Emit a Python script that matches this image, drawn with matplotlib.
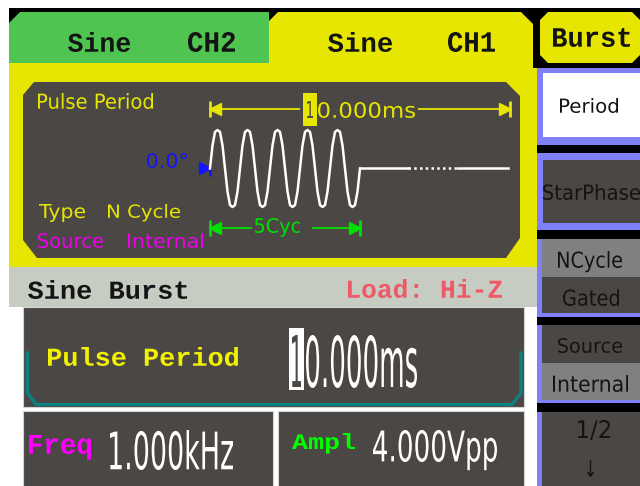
import numpy as np
import matplotlib
matplotlib.use("Agg")
import matplotlib.pyplot as plt
from matplotlib.patches import Rectangle, Polygon
from matplotlib.patheffects import AbstractPathEffect
from matplotlib.transforms import Affine2D, ScaledTranslation, blended_transform_factory
from matplotlib.textpath import TextPath
from matplotlib.font_manager import FontProperties

# ---------------- data ----------------
tab_waveforms = ["Sine", "Sine"]
tab_channels = ["CH2", "CH1"]
menu_title = "Burst"
softkeys = ["Period", "StarPhase"]
softkey_pairs = [["NCycle", "Gated"], ["Source", "Internal"]]
page_label = "1/2"
burst_type = "N Cycle"
burst_source = "Internal"
mode_title = "Sine Burst"
load_value = "Hi-Z"
param_name = "Pulse Period"
pulse_period_ms = 10.0
n_cycles = 5
start_phase_deg = 0.0
freq_khz = 1.0
ampl_vpp = 4.0
# one sine cycle as drawn on screen (normalised samples)
cycle_shape = [0.0, 0.6, 0.95, 1.0, 0.95, 0.6, 0.0, -0.6, -0.95, -1.0, -0.95, -0.6]
idle_solid_end_ms = 6.6
idle_dots_end_ms = 8.25
idle_end_ms = 9.93

# ---------------- style ----------------
W, H, DPI = 640, 486, 100
DARK = "#4b4744"
YELLOW = "#e6e600"
GREEN_TAB = "#50c450"
GRAYBAR = "#c6ccc2"
LAV = "#8080f8"
LGRAY = "#808080"
TEAL = "#0a8282"
INK = "#141414"
MONO = "Liberation Mono"
SANS = "DejaVu Sans"

fig = plt.figure(figsize=(W / DPI, H / DPI), dpi=DPI, facecolor="white")
ax = fig.add_axes([0, 0, 1, 1])
ax.set_autoscale_on(False)
ax.set_xlim(0, W)
ax.set_ylim(H, 0)
ax.axis("off")


class VStretch(AbstractPathEffect):
    def __init__(self, sy=1.0):
        super().__init__()
        self.sy = sy

    def draw_path(self, renderer, gc, tpath, affine, rgbFace=None):
        renderer.draw_path(gc, tpath, Affine2D().scale(1.0, self.sy) + affine, rgbFace)


def fit_text(s, x0, x1, top, bottom, color, family=SANS, weight="normal", ref=None, z=6):
    fp = FontProperties(family=family, weight=weight, size=100)
    bbx = TextPath((0, 0), s, prop=fp).get_extents()
    bby = TextPath((0, 0), ref if ref else s, prop=fp).get_extents()
    size = (x1 - x0) / (bbx.width * DPI / 72.0 / 100.0)
    k = size / 100.0 * DPI / 72.0
    sy = (bottom - top) / (bby.height * k)
    base = bottom + bby.y0 * k * sy
    xa = x0 - bbx.x0 * k
    fp2 = fp.copy()
    fp2.set_size(size)
    ax.text(xa, base, s, fontproperties=fp2, color=color, ha="left", va="baseline",
            path_effects=[VStretch(sy)], zorder=z)


def rect(x, y, w, h, fc, ec="none", lw=0, z=1):
    ax.add_patch(Rectangle((x, y), w, h, facecolor=fc, edgecolor=ec, lw=lw, zorder=z))


def poly(pts, fc, ec="none", lw=0, z=1):
    ax.add_patch(Polygon(pts, closed=True, facecolor=fc, edgecolor=ec, lw=lw, zorder=z))


# ---------------- frame ----------------
rect(9, 8, 631, 60, "black", z=0.5)
rect(533, 8, 107, 259, "black", z=0.5)
rect(537, 267, 103, 219, "black", z=0.5)

poly([(9, 63), (9, 23), (20, 12), (269, 12), (269, 63)], GREEN_TAB, z=1)
poly([(9, 63), (269, 63), (269, 21), (278, 12), (521, 12), (533, 24), (533, 68),
      (537, 68), (537, 268), (9, 268)], YELLOW, z=1)
poly([(23, 95), (34, 82), (506, 82), (520, 96), (520, 238), (506, 258), (37, 258), (23, 240)],
     DARK, z=2)

rect(9, 267, 528, 40, GRAYBAR, z=2)
rect(23, 307, 501, 100, DARK, ec="#d4d4d4", lw=0.8, z=2)
ax.plot([27.5, 27.5, 36, 512, 521, 521], [353, 393, 404.5, 404.5, 393, 353],
        color=TEAL, lw=2.3, solid_joinstyle="miter", zorder=3)
rect(23, 411, 250, 80, DARK, ec="#d4d4d4", lw=0.8, z=2)
rect(278, 411, 246, 80, DARK, ec="#d4d4d4", lw=0.8, z=2)

# right soft-key column
poly([(540, 20), (548, 12), (632, 12), (640, 20), (640, 55), (632, 63), (548, 63), (540, 55)],
     YELLOW, z=2)
rect(537, 68, 103, 77, LAV, z=2)
rect(543, 73, 97, 64, "white", z=3)
rect(537, 153, 103, 77, LAV, z=2)
rect(543, 160, 97, 63, DARK, z=3)
rect(537, 239, 103, 78, LAV, z=2)
rect(542, 239, 98, 38, LGRAY, z=3)
rect(542, 277, 98, 36, DARK, z=3)
rect(537, 325, 103, 78, LAV, z=2)
rect(542, 325, 98, 38, DARK, z=3)
rect(542, 363, 98, 37, LGRAY, z=3)
rect(537, 412, 103, 74, LAV, z=2)
rect(542, 412, 98, 74, DARK, z=3)

# ---------------- waveform ----------------
wave_ax = fig.add_axes([210 / W, 1 - 207 / H, 300 / W, 77 / H])
wave_ax.set_xlim(0, pulse_period_ms)
wave_ax.set_ylim(-ampl_vpp / 2, ampl_vpp / 2)
wave_ax.axis("off")
wave_ax.patch.set_visible(False)

period_ms = 1.0 / freq_khz
t_w, v_w = [], []
for c in range(n_cycles):
    for i, s in enumerate(cycle_shape):
        t_w.append(c * period_ms + i * period_ms / len(cycle_shape))
        v_w.append(s * ampl_vpp / 2)
burst_end = n_cycles * period_ms
t_w.append(burst_end)
v_w.append(0.0)
wkw = dict(color="white", lw=1.8, clip_on=False, solid_joinstyle="round")
wave_ax.plot(t_w, v_w, **wkw)
wave_ax.plot([burst_end, idle_solid_end_ms], [0, 0], **wkw)
wave_ax.plot([idle_solid_end_ms, idle_dots_end_ms], [0, 0], color="white", lw=1.8,
             linestyle=(0, (1.0, 1.3)), clip_on=False)
wave_ax.plot([idle_dots_end_ms, idle_end_ms], [0, 0], **wkw)

tr = blended_transform_factory(wave_ax.transData, ax.transData)


def span(t0, t1, ypx, color):
    ax.plot([t0, t1], [ypx, ypx], color=color, lw=1.3, transform=tr, clip_on=False, zorder=3)
    for t, m, dx in [(t0, "<", 5), (t1, ">", -5)]:
        off = ScaledTranslation(dx / DPI, 0, fig.dpi_scale_trans)
        ax.plot([t], [ypx], marker=m, ms=8, color=color, mec=color, transform=tr + off,
                clip_on=False, zorder=3)
        ax.plot([t], [ypx], marker="|", ms=12, mew=2, color=color, transform=tr,
                clip_on=False, zorder=3)


span(0, pulse_period_ms, 109, YELLOW)
span(0, n_cycles * period_ms, 228, "#00e000")
rect(300, 99, 118, 20, DARK, z=4)
rect(252, 219, 60, 17, DARK, z=4)

# phase marker
off = ScaledTranslation(-5 / DPI, 0, fig.dpi_scale_trans)
ax.plot([0], [168], marker=">", ms=8, color="#1414ff", transform=tr + off, clip_on=False, zorder=3)
ax.plot([0], [168], marker="|", ms=11, mew=2, color="#1414ff", transform=tr, clip_on=False, zorder=3)

# ---------------- texts ----------------
# tabs
fit_text(tab_waveforms[0], 68, 130, 32, 52, INK, MONO, "bold")
fit_text(tab_channels[0], 188, 235, 32, 52, INK, MONO, "bold")
fit_text(tab_waveforms[1], 328, 392, 32, 52, INK, MONO, "bold")
fit_text(tab_channels[1], 448, 495, 32, 52, INK, MONO, "bold")
fit_text(menu_title, 553, 630, 28, 47, INK, MONO, "bold")

# display panel
fit_text(param_name, 38, 153, 93, 109, YELLOW)
fit_text("Type", 39, 85, 204, 218, YELLOW, ref="T")
fit_text(burst_type, 108, 180, 204, 218, YELLOW, ref="N Cle")
fit_text("Source", 38, 103, 233, 248, "#ee00ee")
fit_text(burst_source, 128, 203, 233, 248, "#ee00ee")
fit_text(f"{start_phase_deg:.1f}°", 147, 187, 153, 168, "#1414ff")
fit_text(f"{n_cycles}Cyc", 255, 300, 218, 233, "#00e000", ref="5C")
period_str = f"{pulse_period_ms:.3f}ms"
rect(303, 93, 14, 33, YELLOW, z=5)
fit_text(period_str[0], 307, 313, 101, 118, DARK, z=6)
fit_text(period_str[1:], 318, 415, 102, 118, YELLOW)

# status bar
fit_text(mode_title, 28, 187, 280, 299, INK, MONO, "bold")
fit_text(f"Load: {load_value}", 348, 502, 279, 298, "#f05868", MONO, "bold")

# parameter panel
fit_text(param_name, 48, 238, 347, 366, "#f2f200", MONO, "bold")
rect(289, 328, 15, 62, "white", z=5)
fit_text(period_str[0], 292, 301, 335, 387, DARK, z=6)
fit_text(period_str[1:], 306, 417, 335, 388, "white")

fit_text("Freq", 29, 91, 435, 454, "#ff00ff", MONO, "bold", ref="Fre")
fit_text(f"{freq_khz:.3f}kHz", 110, 233, 430, 470, "white")
fit_text("Ampl", 292, 355, 433, 449, "#00ff00", MONO, "bold", ref="Aml")
fit_text(f"{ampl_vpp:.3f}Vpp", 373, 497, 430, 462, "white", ref=f"{ampl_vpp:.3f}V")

# soft keys
fit_text(softkeys[0], 560, 618, 98, 113, INK)
fit_text(softkeys[1], 543, 640, 184, 200, INK)
fit_text(softkey_pairs[0][0], 558, 622, 251, 268, INK, ref="NCcle")
fit_text(softkey_pairs[0][1], 563, 619, 289, 306, INK)
fit_text(softkey_pairs[1][0], 558, 622, 338, 353, INK)
fit_text(softkey_pairs[1][1], 553, 628, 375, 392, INK)
fit_text(page_label, 578, 610, 420, 438, INK, ref="12")
fit_text("↓", 587, 594, 460, 477, INK)

fig.savefig("out.png", dpi=DPI, facecolor="white")
